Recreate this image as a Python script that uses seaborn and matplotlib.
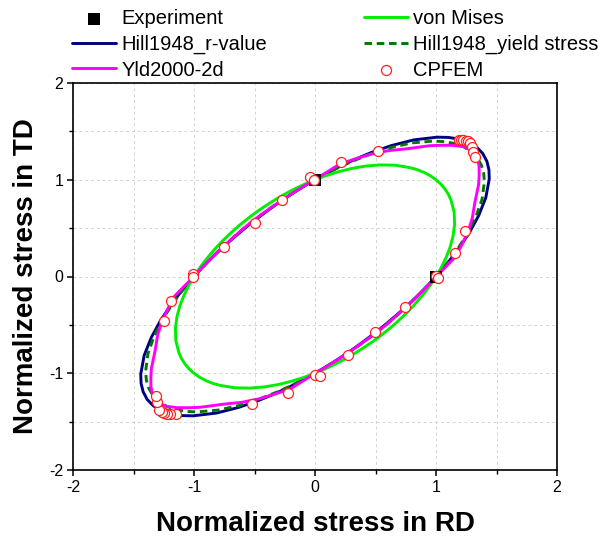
import numpy as np
import pandas as pd
import matplotlib
matplotlib.use("Agg")
import matplotlib.pyplot as plt
import seaborn as sns

sns.set_theme(style="white")
plt.rcParams["font.family"] = ["Liberation Sans", "DejaVu Sans"]
plt.rcParams["axes.unicode_minus"] = False
plt.rcParams["text.color"] = "black"
plt.rcParams["axes.labelcolor"] = "black"
plt.rcParams["xtick.color"] = "black"
plt.rcParams["ytick.color"] = "black"

# polar angle (deg) of each sampled locus point
HALF_DEG = [0, 5, 10, 15, 20, 25, 30, 35, 37.5, 40, 42.5,
            45, 47.5, 50, 52.5, 55, 60, 65, 70, 75, 80, 85,
            90, 95, 100, 105, 110, 115, 120, 125, 130,
            135, 140, 145, 150, 155, 160, 165, 170, 175]
THETA_DEG = HALF_DEG + [t + 180 for t in HALF_DEG] + [360]

# normalized radius at each angle
R_HILL_R = [1.000, 1.069, 1.152, 1.250, 1.364, 1.493, 1.630, 1.758, 1.812, 1.854, 1.881,
            1.890, 1.881, 1.854, 1.812, 1.758, 1.630, 1.493, 1.364, 1.250, 1.152, 1.069,
            1.000, 0.943, 0.896, 0.858, 0.827, 0.803, 0.785, 0.772, 0.765,
            0.763, 0.765, 0.772, 0.785, 0.803, 0.827, 0.858, 0.896, 0.943,
            1.000, 1.069, 1.152, 1.250, 1.364, 1.493, 1.630, 1.758, 1.812, 1.854, 1.881,
            1.890, 1.881, 1.854, 1.812, 1.758, 1.630, 1.493, 1.364, 1.250, 1.152, 1.069,
            1.000, 0.943, 0.896, 0.858, 0.827, 0.803, 0.785, 0.772, 0.765,
            0.763, 0.765, 0.772, 0.785, 0.803, 0.827, 0.858, 0.896, 0.943, 1.000]
R_HILL_YS = [1.000, 1.067, 1.147, 1.240, 1.348, 1.468, 1.594, 1.709, 1.757, 1.794, 1.818,
             1.826, 1.818, 1.794, 1.757, 1.709, 1.594, 1.468, 1.348, 1.240, 1.147, 1.067,
             1.000, 0.944, 0.898, 0.861, 0.831, 0.807, 0.789, 0.777, 0.769,
             0.767, 0.769, 0.777, 0.789, 0.807, 0.831, 0.861, 0.898, 0.944,
             1.000, 1.067, 1.147, 1.240, 1.348, 1.468, 1.594, 1.709, 1.757, 1.794, 1.818,
             1.826, 1.818, 1.794, 1.757, 1.709, 1.594, 1.468, 1.348, 1.240, 1.147, 1.067,
             1.000, 0.944, 0.898, 0.861, 0.831, 0.807, 0.789, 0.777, 0.769,
             0.767, 0.769, 0.777, 0.789, 0.807, 0.831, 0.861, 0.898, 0.944, 1.000]
R_VON_MISES = [1.000, 1.047, 1.098, 1.155, 1.214, 1.273, 1.328, 1.373, 1.391, 1.404, 1.412,
               1.414, 1.412, 1.404, 1.391, 1.373, 1.328, 1.273, 1.214, 1.155, 1.098, 1.047,
               1.000, 0.959, 0.924, 0.894, 0.870, 0.850, 0.835, 0.825, 0.819,
               0.816, 0.819, 0.825, 0.835, 0.850, 0.870, 0.894, 0.924, 0.959,
               1.000, 1.047, 1.098, 1.155, 1.214, 1.273, 1.328, 1.373, 1.391, 1.404, 1.412,
               1.414, 1.412, 1.404, 1.391, 1.373, 1.328, 1.273, 1.214, 1.155, 1.098, 1.047,
               1.000, 0.959, 0.924, 0.894, 0.870, 0.850, 0.835, 0.825, 0.819,
               0.816, 0.819, 0.825, 0.835, 0.850, 0.870, 0.894, 0.924, 0.959, 1.000]
R_YLD2000 = [1.000, 1.080, 1.180, 1.255, 1.345, 1.435, 1.525, 1.650, 1.710, 1.770, 1.820,
             1.840, 1.820, 1.770, 1.710, 1.650, 1.525, 1.435, 1.345, 1.255, 1.180, 1.080,
             1.000, 0.945, 0.898, 0.860, 0.830, 0.806, 0.789, 0.778, 0.772,
             0.770, 0.772, 0.778, 0.789, 0.806, 0.830, 0.860, 0.898, 0.945,
             1.000, 1.080, 1.180, 1.255, 1.345, 1.435, 1.525, 1.650, 1.710, 1.770, 1.820,
             1.840, 1.820, 1.770, 1.710, 1.650, 1.525, 1.435, 1.345, 1.255, 1.180, 1.080,
             1.000, 0.945, 0.898, 0.860, 0.830, 0.806, 0.789, 0.778, 0.772,
             0.770, 0.772, 0.778, 0.789, 0.806, 0.830, 0.860, 0.898, 0.945, 1.000]

EXP_RD = [1.0, 0.0]
EXP_TD = [0.0, 1.0]

CPFEM_RD = [1.186, 1.205, 1.224, 1.246, 1.265, 1.279, 1.296, 1.306, 1.323,
            1.240, 1.159, 1.000, 1.020, 0.745, 0.496, 0.271, 0.003, 0.040, -0.220, -0.520,
            -1.145, -1.200, -1.224, -1.246, -1.268, -1.288, -1.309, -1.317,
            -1.249, -1.190, -1.005, -1.005, -0.753, -0.500, -0.274, -0.040, -0.006, 0.214, 0.520]
CPFEM_TD = [1.414, 1.411, 1.411, 1.404, 1.396, 1.383, 1.334, 1.283, 1.238,
            0.467, 0.240, 0.003, -0.020, -0.317, -0.575, -0.815, -1.020, -1.030, -1.200, -1.320,
            -1.424, -1.424, -1.417, -1.410, -1.400, -1.383, -1.300, -1.235,
            -0.461, -0.255, 0.030, 0.000, 0.300, 0.550, 0.790, 1.025, 1.000, 1.187, 1.300]


def locus(radii):
    th = np.deg2rad(np.array(THETA_DEG, dtype=float))
    r = np.array(radii, dtype=float)
    return pd.DataFrame({"RD": r * np.cos(th), "TD": r * np.sin(th)})


fig = plt.figure(figsize=(5.99, 5.43), dpi=100)
ax = fig.add_axes([73 / 599, 1 - 470 / 543, 484 / 599, 387 / 543])

LW = 2.1
curves = [
    ("Hill1948_r-value", R_HILL_R, "#000080", "-"),
    ("Hill1948_yield stress", R_HILL_YS, "#007800", "--"),
    ("von Mises", R_VON_MISES, "#00EE00", "-"),
    ("Yld2000-2d", R_YLD2000, "#FF00FF", "-"),
]
for name, radii, col, ls in curves:
    df = locus(radii)
    kw = dict(dashes=(2.6, 1.6)) if ls == "--" else {}
    sns.lineplot(data=df, x="RD", y="TD", sort=False, estimator=None,
                 color=col, lw=LW, label=name, ax=ax, zorder=3, **kw)

sns.scatterplot(x=EXP_RD, y=EXP_TD, marker="s", color="black", s=85,
                edgecolor="black", linewidth=0, label="Experiment", ax=ax, zorder=4)
sns.scatterplot(x=CPFEM_RD, y=CPFEM_TD, marker="o", facecolor="white",
                edgecolor="#FF2020", s=52, linewidth=0.9, label="CPFEM", ax=ax, zorder=5)

ax.set_xlim(-2, 2)
ax.set_ylim(-2, 2)
ax.set_xticks([-2, -1, 0, 1, 2])
ax.set_yticks([-2, -1, 0, 1, 2])
ax.set_xticks([-1.5, -0.5, 0.5, 1.5], minor=True)
ax.set_yticks([-1.5, -0.5, 0.5, 1.5], minor=True)
ax.grid(which="both", color="#d4d4d4", linestyle=(0, (3, 3)), linewidth=0.7)
ax.set_axisbelow(True)
for s in ax.spines.values():
    s.set_color("black")
    s.set_linewidth(1.2)
ax.tick_params(which="major", direction="out", length=4.5, width=1.1, color="black",
               labelcolor="black", labelsize=11.5, bottom=True, left=True,
               top=False, right=False, pad=2.5)
ax.tick_params(which="minor", direction="out", length=3, width=1.0, color="black",
               bottom=True, left=True, top=False, right=False)
ax.set_xlabel("Normalized stress in RD", fontsize=20, fontweight="bold", labelpad=12,
              color="black")
ax.set_ylabel("Normalized stress in TD", fontsize=20, fontweight="bold", labelpad=7,
              color="black")

h, l = ax.get_legend_handles_labels()
ax.get_legend().remove()
hd = dict(zip(l, h))
order = ["Experiment", "Hill1948_r-value", "Yld2000-2d",
         "von Mises", "Hill1948_yield stress", "CPFEM"]
leg = fig.legend([hd[k] for k in order], order, ncol=2, loc="upper left",
                 bbox_to_anchor=(72 / 599, 1 - 9 / 543), frameon=False, fontsize=14.5,
                 borderpad=0, handlelength=2.2, handletextpad=0.25, columnspacing=4.8,
                 labelspacing=0.33, borderaxespad=0)
for t in leg.get_texts():
    t.set_color("black")

fig.savefig("out.png", dpi=100)
